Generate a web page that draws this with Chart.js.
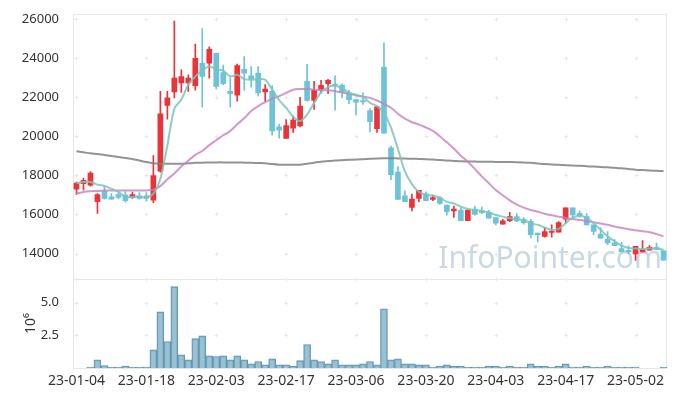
<!DOCTYPE html>
<html>
<head>
<meta charset="utf-8">
<script src="https://cdn.jsdelivr.net/npm/chart.js@4.4.0/dist/chart.umd.min.js"></script>
<style>
  html, body { margin: 0; padding: 0; background: #fff; }
  #wrap { width: 677px; height: 396px; }
</style>
</head>
<body>
<div id="wrap"><canvas id="chart" width="677" height="396"></canvas></div>
<script>
// trading days shown on the x axis
const dates = [
  '23-01-04','23-01-05','23-01-06','23-01-09','23-01-10','23-01-11','23-01-12','23-01-13','23-01-16','23-01-17',
  '23-01-18','23-01-19','23-01-20','23-01-25','23-01-26','23-01-27','23-01-30','23-01-31','23-02-01','23-02-02',
  '23-02-03','23-02-06','23-02-07','23-02-08','23-02-09','23-02-10','23-02-13','23-02-14','23-02-15','23-02-16',
  '23-02-17','23-02-20','23-02-21','23-02-22','23-02-23','23-02-24','23-02-27','23-02-28','23-03-02','23-03-03',
  '23-03-06','23-03-07','23-03-08','23-03-09','23-03-10','23-03-13','23-03-14','23-03-15','23-03-16','23-03-17',
  '23-03-20','23-03-21','23-03-22','23-03-23','23-03-24','23-03-27','23-03-28','23-03-29','23-03-30','23-03-31',
  '23-04-03','23-04-04','23-04-05','23-04-06','23-04-07','23-04-10','23-04-11','23-04-12','23-04-13','23-04-14',
  '23-04-17','23-04-18','23-04-19','23-04-20','23-04-21','23-04-24','23-04-25','23-04-26','23-04-27','23-04-28',
  '23-05-02','23-05-03','23-05-04','23-05-08','23-05-09'
];

const openP = [
  17300,17575,17495,16650,17190,16900,17020,16990,16870,16950,
  16955,16735,18220,21575,22270,22725,22725,22590,23737,23737,
  24244,23265,22300,22100,23430,23095,23230,22270,22300,20480,
  19890,20410,20530,22810,21830,22355,22690,22675,22610,22220,
  21880,21830,21320,20395,23535,19410,18168,16950,16360,16815,
  17040,16765,16870,16480,16180,16230,15685,16280,16175,16110,
  15840,15500,15685,15890,15755,15650,15045,14875,15080,15095,
  15755,16345,16060,15890,15470,14995,14740,14540,14255,14170,
  13980,14085,14170,14320,14150
];
const highP = [
  17660,17865,18200,17070,17440,17070,17100,17170,17150,17120,
  17120,19010,22300,22300,25900,23400,23145,24715,25510,24580,
  24244,23650,22980,23700,24075,23570,23570,22640,22590,20615,
  20850,21040,22000,23685,22810,22860,22910,23095,22690,22355,
  21880,22220,21420,21510,24785,19500,18450,17205,17040,17240,
  17160,16990,16920,16480,16430,16330,16230,16430,16380,16210,
  15840,15755,16110,16045,15840,15755,15045,15325,15470,15635,
  16345,16345,16180,16040,15470,15330,15130,14720,14575,14390,
  14370,14660,14420,14530,14150
];
const lowP = [
  17020,17240,17450,16050,16785,16785,16790,16630,16820,16785,
  16680,16600,18170,20870,21965,22250,22300,22355,21495,22980,
  22420,22640,21495,21800,22355,22520,22060,21800,20055,19905,
  19890,20195,20480,21800,21375,22220,22185,21340,21965,21675,
  21090,21630,20230,20195,20160,17775,16765,16650,16180,16650,
  16700,16700,16520,15970,15855,15685,15685,15970,16040,15805,
  15465,15500,15635,15635,15500,14800,14590,14840,14840,15095,
  15550,15800,15855,15470,14960,14790,14455,14405,14085,14000,
  13650,14085,14170,14205,13660
];
const closeP = [
  17610,17750,18115,17020,16815,16785,16870,16700,17020,16815,
  16815,17995,21155,21965,22980,23060,22975,23990,23065,24445,
  22555,22690,22185,23620,23230,22930,22220,22420,20275,20310,
  20550,20835,21545,21830,22355,22610,22860,22625,22270,21880,
  21745,21760,20750,21510,20160,18030,16765,16650,16785,17240,
  16700,16870,16565,16142,16280,15685,16230,16005,16090,15805,
  15550,15670,15890,15670,15585,14960,14960,15130,15130,15585,
  16345,15975,15940,15470,15130,14790,14540,14405,14085,14085,
  14370,14205,14320,14205,13660
];

// moving average lines as drawn in the picture
const maShort = [
  17610,17660,17660,17525,17460,17320,17155,16900,16900,16900,
  16880,17070,17830,19520,21410,21880,22640,23060,23365,23570,
  23430,23365,23060,23145,22925,22890,22925,22890,22385,21850,
  21460,21005,20785,21120,21710,22255,22520,22590,22470,22220,
  22130,22015,21710,21545,21205,20445,19350,18200,17550,17150,
  17020,16955,16850,16650,16565,16395,16280,16230,16175,16110,
  15975,15890,15805,15755,15720,15550,15470,15330,15215,15265,
  15550,15840,15940,15840,15550,15215,14880,14625,14405,14285,
  14255,14230,14255,14255,14205
];
const maMid = [
  17070,17155,17190,17200,17225,17225,17225,17225,17225,17225,
  17230,17270,17450,17800,18100,18450,18750,19050,19250,19550,
  19800,20055,20275,20615,20920,21290,21545,21745,21915,22050,
  22220,22385,22420,22420,22385,22370,22350,22305,22240,22185,
  22090,22030,21965,21830,21660,21460,21155,20900,20720,20600,
  20450,20275,20000,19690,19380,19000,18700,18330,17950,17600,
  17250,16980,16720,16500,16350,16230,16140,16040,15955,15890,
  15825,15770,15720,15670,15600,15535,15470,15385,15315,15245,
  15195,15145,15095,14995,14880
];
const maLong = [
  19230,19180,19130,19090,19045,18990,18940,18890,18840,18760,
  18680,18620,18600,18590,18590,18600,18620,18640,18650,18660,
  18665,18665,18660,18660,18650,18640,18630,18620,18580,18550,
  18540,18540,18550,18600,18650,18700,18730,18760,18780,18800,
  18810,18830,18850,18870,18880,18880,18870,18860,18850,18840,
  18830,18810,18790,18760,18740,18720,18710,18705,18700,18700,
  18690,18685,18680,18675,18660,18640,18610,18580,18560,18540,
  18520,18500,18490,18470,18450,18430,18410,18390,18360,18330,
  18290,18270,18250,18235,18220
];

const volume = [
  0,0,80000,630000,190000,80000,80000,150000,80000,80000,
  80000,1390000,4300000,2030000,6230000,1000000,620000,2250000,2460000,930000,
  880000,930000,620000,930000,620000,320000,500000,250000,700000,250000,
  250000,150000,570000,1800000,620000,500000,320000,620000,240000,240000,
  240000,320000,500000,240000,4540000,620000,700000,320000,320000,240000,
  240000,80000,150000,240000,150000,150000,80000,80000,80000,150000,
  150000,80000,150000,80000,80000,320000,150000,150000,80000,150000,
  320000,80000,80000,150000,80000,80000,150000,80000,80000,80000,
  80000,0,0,0,80000
];

const priceTicks = [14000, 16000, 18000, 20000, 22000, 24000, 26000];
const volTicks = [2500000, 5000000];

const upColor = '#ec3339';
const downColor = '#6cc3da';
const candleColors = closeP.map((c, i) => c >= openP[i] ? upColor : downColor);

const tickFont = { family: 'Noto Sans', size: 13 };

// crosses at grid intersections, pane frames and the watermark
const paneDecor = {
  id: 'paneDecor',
  beforeDatasetsDraw(chart) {
    const { ctx, scales } = chart;
    const x = scales.x, yP = scales.yPrice, yV = scales.yVol;
    ctx.save();

    ctx.font = "30px 'Noto Sans'";
    ctx.fillStyle = 'rgba(188,208,221,0.8)';
    ctx.textAlign = 'right';
    ctx.textBaseline = 'alphabetic';
    ctx.fillText('InfoPointer.com', x.right - 5, yP.bottom - 11);

    ctx.strokeStyle = '#e6e6e6';
    ctx.lineWidth = 1;
    [yP, yV].forEach(s => {
      ctx.strokeRect(Math.round(x.left) + 0.5, Math.round(s.top) + 0.5,
        Math.round(x.right - x.left) - 1, Math.round(s.bottom - s.top));
    });

    ctx.strokeStyle = '#e8e8e8';
    const rows = priceTicks.map(v => yP.getPixelForValue(v))
      .concat(volTicks.map(v => yV.getPixelForValue(v)), [yV.top]);
    for (let i = 0; i < dates.length; i += 10) {
      const px = Math.round(x.getPixelForValue(i)) + 0.5;
      rows.forEach(r => {
        const py = Math.round(r) + 0.5;
        ctx.beginPath();
        ctx.moveTo(px - 2, py); ctx.lineTo(px + 2, py);
        ctx.moveTo(px, py - 2); ctx.lineTo(px, py + 2);
        ctx.stroke();
      });
    }
    ctx.restore();
  }
};

const ctx = document.getElementById('chart').getContext('2d');
new Chart(ctx, {
  data: {
    labels: dates,
    datasets: [
      {
        type: 'line', label: 'MA5', data: maShort, yAxisID: 'yPrice', order: 0,
        borderColor: 'rgba(122,196,186,0.85)', borderWidth: 2, pointRadius: 0, tension: 0.3
      },
      {
        type: 'line', label: 'MA20', data: maMid, yAxisID: 'yPrice', order: 0,
        borderColor: 'rgba(196,128,192,0.8)', borderWidth: 2, pointRadius: 0, tension: 0.3
      },
      {
        type: 'line', label: 'MA120', data: maLong, yAxisID: 'yPrice', order: 0,
        borderColor: 'rgba(128,128,128,0.85)', borderWidth: 2, pointRadius: 0, tension: 0.3
      },
      {
        type: 'bar', label: 'wick', yAxisID: 'yPrice', order: 1, grouped: false,
        data: lowP.map((l, i) => [l, highP[i]]),
        backgroundColor: candleColors, barThickness: 1
      },
      {
        type: 'bar', label: 'body', yAxisID: 'yPrice', order: 1, grouped: false,
        data: openP.map((o, i) => [o, closeP[i]]),
        backgroundColor: candleColors, barThickness: 5, minBarLength: 1
      },
      {
        type: 'bar', label: 'volume', yAxisID: 'yVol', order: 1, grouped: false,
        data: volume,
        backgroundColor: 'rgba(129,176,199,0.8)', borderColor: '#5e97b3', borderWidth: 1,
        barPercentage: 1, categoryPercentage: 1
      }
    ]
  },
  options: {
    responsive: false,
    animation: false,
    layout: { padding: { left: 13, right: 10, top: 10, bottom: 0 } },
    plugins: { legend: { display: false }, tooltip: { enabled: false } },
    scales: {
      x: {
        type: 'category', offset: true,
        grid: { display: false }, border: { display: false },
        ticks: {
          autoSkip: false, maxRotation: 0, padding: -3, color: '#333',
          font: { family: 'Noto Sans', size: 14 },
          callback: (v, i) => (i % 10 === 0 ? dates[i] : '')
        },
        afterFit: s => { s.height = 28; }
      },
      yVol: {
        type: 'linear', position: 'left', stack: 'panes', stackWeight: 90,
        min: 0, max: 6820000,
        grid: { display: false }, border: { display: false },
        afterBuildTicks: s => { s.ticks = volTicks.map(v => ({ value: v })); },
        ticks: { padding: 6, color: '#333', font: tickFont, callback: v => (v / 1e6).toFixed(1) },
        title: { display: true, text: '10⁶', color: '#333', font: { family: 'Noto Sans', size: 14 }, padding: { top: 10, bottom: 0 } },
        afterFit: s => { s.width = 60; }
      },
      yPrice: {
        type: 'linear', position: 'left', stack: 'panes', stackWeight: 268,
        min: 12700, max: 26268,
        grid: { display: false }, border: { display: false },
        afterBuildTicks: s => { s.ticks = priceTicks.map(v => ({ value: v })); },
        ticks: { padding: 6, color: '#333', font: tickFont, callback: v => String(v) },
        afterFit: s => { s.width = 60; }
      }
    }
  },
  plugins: [paneDecor]
});
</script>
</body>
</html>
